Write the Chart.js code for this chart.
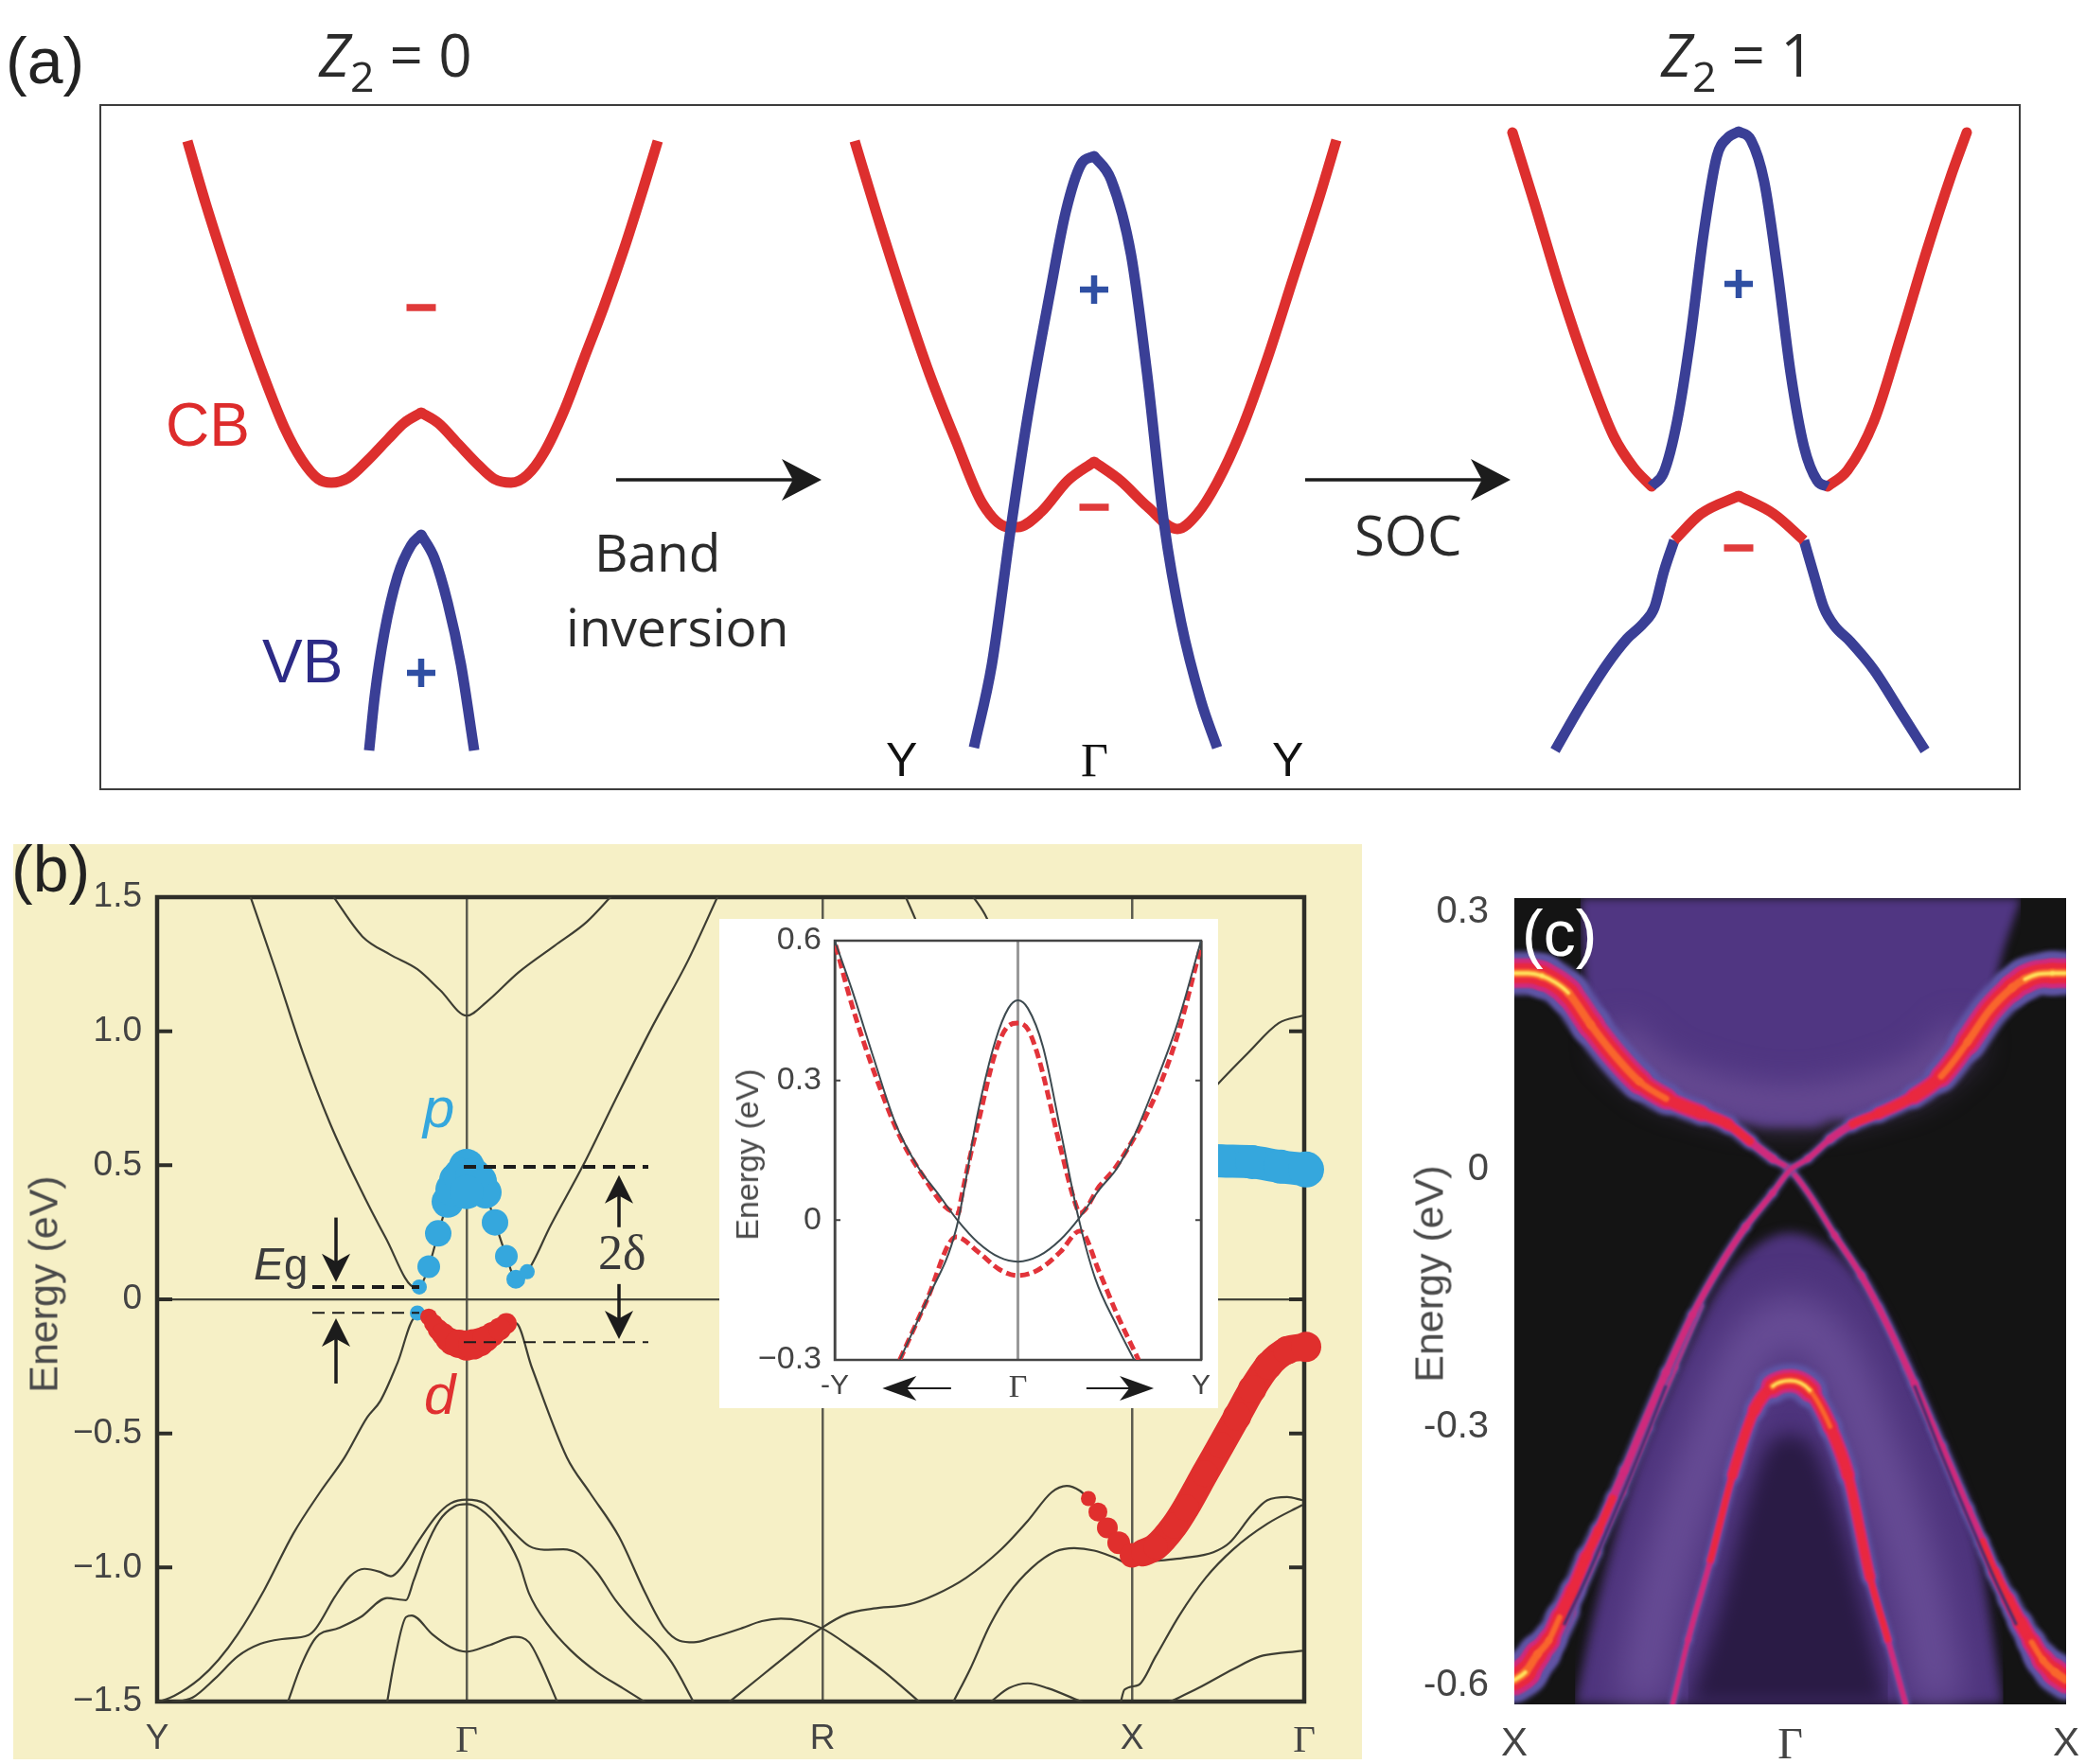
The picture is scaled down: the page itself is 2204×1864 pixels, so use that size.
<!doctype html>
<html>

<head>
    <title>Band inversion</title>
    <script src="https://cdn.jsdelivr.net/npm/chart.js"></script>
    <style>
        html, body { margin: 0; padding: 0; background: #fff; }
        #stage { position: relative; width: 2204px; height: 1864px; overflow: hidden; }
        #stage canvas { position: absolute; }
        .lbl { position: absolute; line-height: 1; white-space: nowrap; font-family: "Liberation Sans", sans-serif; }
        .rot { transform: translate(-50%, -50%) rotate(-90deg); color: #4a4a4a; }
        .sans { font-family: "Open Sans", sans-serif; color: #2b2b2b; }
        .serif { font-family: "Liberation Serif", serif; }
    </style>
</head>

<body>
    <div id="stage">
        <canvas id="chartA" width="2048" height="743" style="left:96px;top:101px"></canvas>
        <canvas id="chartB" width="1425" height="967" style="left:14px;top:892px"></canvas>
        <canvas id="chartInset" width="527" height="517" style="left:760px;top:971px"></canvas>
        <canvas id="chartC" width="734" height="944" style="left:1470px;top:920px"></canvas>

        <div class="lbl" style="left:6px;top:30px;font-size:68px;color:#222">(a)</div>
        <div class="lbl" style="left:12px;top:884px;font-size:68px;color:#222">(b)</div>
        <div class="lbl" style="left:1608px;top:952px;font-size:68px;color:#fff">(c)</div>

        <div class="lbl sans" style="left:337px;top:26px;font-size:62px"><i>Z</i><span style="font-size:.72em;position:relative;top:.35em">2</span> = 0</div>
        <div class="lbl sans" style="left:1755px;top:26px;font-size:62px"><i>Z</i><span style="font-size:.72em;position:relative;top:.35em">2</span> = 1</div>
        <div class="lbl" style="left:175px;top:417px;font-size:64px;color:#dd2b2b">CB</div>
        <div class="lbl" style="left:277px;top:667px;font-size:64px;color:#2c2a86">VB</div>
        <div class="lbl sans" style="left:628px;top:555px;font-size:55px">Band</div>
        <div class="lbl sans" style="left:598px;top:634px;font-size:55px">inversion</div>
        <div class="lbl sans" style="left:1431px;top:536px;font-size:58px">SOC</div>
        <div class="lbl" style="left:936px;top:778px;font-size:50px;color:#111">Y</div>
        <div class="lbl serif" style="left:1142px;top:778px;font-size:50px;color:#111">Γ</div>
        <div class="lbl" style="left:1344px;top:778px;font-size:50px;color:#111">Y</div>

        <div class="lbl rot" style="left:46px;top:1357px;font-size:43px">Energy (eV)</div>
        <div class="lbl rot" style="left:789px;top:1220px;font-size:34px">Energy (eV)</div>
        <div class="lbl rot" style="left:1510px;top:1346px;font-size:43px">Energy (eV)</div>

        <div class="lbl" style="left:268px;top:1312px;font-size:48px;color:#3c3c3c"><i>E</i><span style="font-size:.95em">g</span></div>
        <div class="lbl serif" style="left:632px;top:1298px;font-size:52px;color:#3a3a3a">2δ</div>
        <div class="lbl" style="left:447px;top:1141px;font-size:60px;color:#35a7dd"><i>p</i></div>
        <div class="lbl" style="left:448px;top:1444px;font-size:60px;color:#e03030"><i>d</i></div>
    </div>

    <script>
        // ---- panel (a): k is relative to each zone centre, E in arbitrary units
        const zoneCentre = [3.39, 10.5, 17.31];

        const cb1k = [-2.47, -2.28, -2.07, -1.86, -1.65, -1.44, -1.26, -1.09, -.95, -.77, -.56, -.35, -.18, 0, .18, .39, .60, .77, .95, 1.12, 1.30, 1.51, 1.72, 1.93, 2.14, 2.35, 2.50];
        const cb1e = [6.85, 6.20, 5.54, 4.91, 4.33, 3.81, 3.48, 3.28, 3.24, 3.29, 3.48, 3.70, 3.87, 3.98, 3.87, 3.65, 3.43, 3.28, 3.24, 3.32, 3.56, 4.00, 4.55, 5.10, 5.70, 6.36, 6.85];
        const vb1k = [-.55, -.49, -.39, -.25, -.105, 0, .14, .28, .42, .56];
        const vb1e = [.41, .99, 1.65, 2.25, 2.58, 2.69, 2.44, 1.97, 1.32, .41];

        const cb2k = [-2.53, -2.30, -2.02, -1.74, -1.46, -1.18, -.90, -.81, -.56, -.28, 0, .28, .56, .88, 1.09, 1.30, 1.55, 1.83, 2.11, 2.39, 2.56];
        const cb2e = [6.85, 6.09, 5.21, 4.39, 3.68, 3.02, 2.77, 2.77, 2.93, 3.26, 3.46, 3.26, 2.99, 2.75, 2.91, 3.24, 3.78, 4.55, 5.42, 6.29, 6.86];
        const vb2k = [-1.27, -1.08, -.88, -.7, -.46, -.3, -.14, 0, .18, .39, .56, .74, .92, 1.13, 1.30];
        const vb2e = [.44, 1.32, 2.76, 3.95, 5.28, 6.1, 6.6, 6.69, 6.44, 5.65, 4.39, 2.80, 1.76, .93, .44];

        const cb3LeftK = [-2.39, -2.16, -1.88, -1.60, -1.32, -1.11, -.92];
        const cb3LeftE = [6.94, 6.20, 5.27, 4.44, 3.73, 3.40, 3.20];
        const vb3TopK = [-.92, -.79, -.65, -.51, -.37, -.23, -.12, 0, .13, .27, .41, .55, .69, .83, .94];
        const vb3TopE = [3.20, 3.35, 3.89, 4.77, 5.87, 6.69, 6.88, 6.95, 6.86, 6.42, 5.48, 4.39, 3.62, 3.26, 3.20];
        const cb3RightK = [.94, 1.15, 1.43, 1.71, 1.99, 2.24, 2.41];
        const cb3RightE = [3.20, 3.37, 3.89, 4.77, 5.70, 6.47, 6.94];
        const cb3CapK = [-.68, -.40, 0, .37, .69];
        const cb3CapE = [2.63, 2.91, 3.10, 2.91, 2.63];
        const vb3LeftK = [-1.94, -1.67, -1.39, -1.18, -1.00, -.89, -.79, -.68];
        const vb3LeftE = [.41, .88, 1.32, 1.59, 1.76, 1.92, 2.30, 2.63];
        const vb3RightK = [.69, .80, .90, 1.01, 1.18, 1.43, 1.71, 1.97];
        const vb3RightE = [2.63, 2.25, 1.92, 1.73, 1.56, 1.26, .82, .41];

        const plusZone = [0, 1, 2];
        const plusE = [1.23, 5.28, 5.34];
        const minusE = [5.09, 2.98, 2.55];

        // ---- panel (b): k is the path length, E in eV
        const pathTicks = [0, 3.27, 7.03, 10.30, 12.12];
        const pathLabels = ['Y', 'Γ', 'R', 'X', 'Γ'];
        const energyTicks = [1.5, 1, .5, 0, -.5, -1, -1.5];
        const energyLabels = ['1.5', '1.0', '0.5', '0', '−0.5', '−1.0', '−1.5'];

        const condLeftK = [.98, 1.25, 1.54, 1.83, 2.12, 2.41, 2.73];
        const condLeftE = [1.508, 1.23, .92, .654, .432, .233, .044];
        const pDotK = [2.77, 2.87, 2.97, 3.07, 3.16, 3.27, 3.41, 3.47, 3.57, 3.69, 3.79, 3.91];
        const pDotE = [.046, .122, .246, .364, .446, .494, .441, .399, .287, .161, .075, .103];
        const pDotSize = [8, 12, 14, 17, 18, 19, 18, 17, 14, 12, 10, 8];
        const pFillK = [3.12, 3.21, 3.34, 3.27];
        const pFillE = [.41, .46, .46, .40];
        const pFillSize = [18, 19, 19, 18];
        const condRightK = [4.16, 4.50, 4.84, 5.22, 5.61, 5.93];
        const condRightE = [.277, .499, .743, 1.009, 1.264, 1.508];

        const valLeftK = [0, .18, .45, .65, .85, 1.13, 1.44, 1.72, 1.98, 2.22, 2.36, 2.54, 2.73];
        const valLeftE = [-1.503, -1.479, -1.415, -1.344, -1.25, -1.085, -.873, -.72, -.59, -.44, -.378, -.237, -.067];
        const dDotK = [2.87, 2.97, 3.07, 3.12, 3.27, 3.41, 3.54, 3.69];
        const dDotE = [-.066, -.113, -.148, -.16, -.172, -.16, -.131, -.09];
        const dDotSize = [9, 11, 13, 14, 16, 15, 13, 11];
        const dFillK = [2.92, 3.02, 3.19, 3.34, 3.47, 3.62];
        const dFillE = [-.09, -.13, -.166, -.168, -.148, -.11];
        const dFillSize = [10, 12, 15, 16, 14, 12];
        const valRightK = [3.79, 3.96, 4.33, 4.57, 4.88, 5.16, 5.36, 5.52, 5.67, 5.87, 6.18, 6.39, 6.59, 6.80, 7.02, 7.33, 7.69, 8.06];
        const valRightE = [-.089, -.255, -.59, -.72, -.885, -1.097, -1.226, -1.273, -1.279, -1.261, -1.226, -1.20, -1.191, -1.199, -1.226, -1.297, -1.391, -1.503];

        const upperK = [1.85, 2.17, 2.46, 2.75, 2.99, 3.27, 3.48, 3.82, 4.20, 4.54, 4.81];
        const upperE = [1.508, 1.353, 1.286, 1.231, 1.153, 1.058, 1.109, 1.22, 1.319, 1.408, 1.508];

        const band1k = [.14, .375, .61, .85, 1.09, 1.32, 1.60, 1.68, 1.88, 2.04, 2.19, 2.35, 2.47, 2.59, 2.75, 2.95, 3.10, 3.27, 3.46, 3.62, 3.78, 3.93, 4.09, 4.29, 4.45, 4.65, 4.84, 5.04, 5.28, 5.44, 5.67];
        const band1e = [-1.503, -1.485, -1.415, -1.332, -1.285, -1.267, -1.252, -1.226, -1.108, -1.032, -1.005, -1.016, -1.033, -.996, -.908, -.808, -.761, -.747, -.761, -.814, -.873, -.920, -.934, -.932, -.949, -1.020, -1.120, -1.203, -1.285, -1.356, -1.503];
        const band2k = [1.38, 1.52, 1.68, 1.92, 2.15, 2.43, 2.63, 2.71, 2.83, 2.98, 3.14, 3.27, 3.42, 3.62, 3.82, 3.93, 4.13, 4.37, 4.65, 4.92, 5.16];
        const band2e = [-1.503, -1.367, -1.261, -1.226, -1.185, -1.114, -1.122, -1.049, -.932, -.826, -.773, -.764, -.784, -.855, -.979, -1.097, -1.214, -1.309, -1.391, -1.450, -1.503];
        const band3k = [2.43, 2.51, 2.63, 2.69, 2.91, 3.10, 3.27, 3.50, 3.78, 3.93, 4.05, 4.23];
        const band3e = [-1.503, -1.344, -1.185, -1.179, -1.250, -1.297, -1.314, -1.291, -1.259, -1.279, -1.356, -1.503];
        const band4k = [6.04, 6.39, 6.72, 7.02, 7.29, 7.57, 7.94, 8.22, 8.55, 8.92, 9.20, 9.45, 9.61, 9.75, 9.84];
        const band4e = [-1.503, -1.403, -1.309, -1.226, -1.173, -1.153, -1.138, -1.102, -1.038, -.932, -.826, -.720, -.696, -.714, -.743];
        const band5k = [8.41, 8.59, 8.80, 9.0, 9.24, 9.49, 9.69, 9.90, 10.10, 10.30, 10.55, 10.84, 11.16, 11.33, 11.57, 11.73, 11.94, 12.10];
        const band5e = [-1.503, -1.379, -1.214, -1.097, -1.002, -.941, -.928, -.937, -.961, -.99, -.976, -.965, -.943, -.908, -.802, -.749, -.737, -.749];
        const band6k = [8.80, 9.0, 9.20, 9.41, 9.78];
        const band6e = [-1.503, -1.45, -1.432, -1.45, -1.503];
        const band7k = [10.18, 10.22, 10.37, 10.55, 10.80, 11.08, 11.37, 11.73, 12.10];
        const band7e = [-1.503, -1.456, -1.438, -1.332, -1.179, -1.038, -.932, -.837, -.767];
        const band8k = [10.69, 11.0, 11.37, 11.65, 11.90, 12.10];
        const band8e = [-1.503, -1.45, -1.379, -1.332, -1.318, -1.311];
        const band9k = [10.9, 11.20, 11.53, 11.85, 12.1];
        const band9e = [.68, .80, .92, 1.03, 1.058];
        const band10k = [7.90, 8.01, 8.2];
        const band10e = [1.508, 1.419, 1.25];
        const band11k = [8.61, 8.77, 9.0];
        const band11e = [1.508, 1.419, 1.2];

        const redXk = [9.84, 9.94, 10.04, 10.16, 10.30, 10.42, 10.55, 10.75, 10.87, 11.07, 11.24, 11.41, 11.57, 11.74, 11.94, 12.14];
        const redXe = [-.743, -.793, -.852, -.908, -.955, -.945, -.923, -.843, -.777, -.65, -.544, -.437, -.335, -.247, -.19, -.177];
        const redXsize = [8, 10, 11, 12, 13, 13, 13, 14, 14, 14, 14, 15, 15, 15, 15, 16];
        const blueXk = [11.0, 11.25, 11.57, 11.87, 12.14];
        const blueXe = [.52, .516, .512, .495, .484];
        const blueXsize = [17, 17, 18, 18, 19];

        // ---- inset
        const insetTicks = [.6, .3, 0, -.3];
        const insetLabels = ['0.6', '0.3', '0', '−0.3'];
        const insetPathTicks = [-1, 0, 1];
        const insetPathLabels = ['-Y', 'Γ', 'Y'];
        const fitCk = [-1, -.905, -.787, -.668, -.55, -.431, -.33, -.218, -.10, 0, .114, .232, .332, .445, .54, .635, .754, .872, 1];
        const fitCe = [.6, .493, .347, .207, .117, .054, 0, -.048, -.08, -.089, -.077, -.042, .003, .066, .111, .181, .296, .423, .6];
        const fitVk = [-.645, -.502, -.336, -.218, -.123, -.052, 0, .054, .137, .232, .332, .422, .54, .635];
        const fitVe = [-.3, -.176, -.017, .232, .385, .455, .472, .455, .372, .194, .003, -.125, -.227, -.3];
        const redUpK = [-.995, -.905, -.787, -.645, -.502, -.40, -.325, -.313, -.265, -.218, -.123, -.052, 0, .054, .114, .232, .315, .339, .445, .54, .754, .872, 1];
        const redUpE = [.59, .46, .32, .18, .085, .03, .015, .04, .13, .207, .36, .417, .423, .41, .347, .156, .034, .015, .073, .117, .27, .398, .59];
        const redLowK = [-.645, -.502, -.336, -.218, -.10, 0, .114, .232, .339, .445, .54, .659];
        const redLowE = [-.3, -.176, -.036, -.068, -.106, -.119, -.106, -.068, -.023, -.112, -.201, -.3];

        // ---- panel (c)
        const specTicks = [.3, 0, -.3, -.6];
        const specLabels = ['0.3', '0', '-0.3', '-0.6'];
        const specPathTicks = [-1, 0, 1];
        const specPathLabels = ['X', 'Γ', 'X'];

        const arm1k = [-1, -.95, -.90, -.85, -.804, -.723, -.643, -.547, -.45, -.322, -.225, -.145, -.064, 0, .072, .161, .257, .354, .45, .547, .60, .643, .695, .74, .79, .836, .875, .916, .96, 1];
        const arm1e = [.229, .229, .226, .218, .206, .169, .136, .103, .083, .066, .053, .033, .013, 0, -.03, -.076, -.123, -.182, -.249, -.322, -.362, -.395, -.433, -.468, -.50, -.528, -.55, -.571, -.585, -.594];
        const arm1w = [46, 46, 44, 44, 42, 40, 40, 34, 26, 20, 16, 12, 9, 8, 8, 9, 10, 10, 11, 12, 12, 13, 15, 18, 22, 26, 30, 36, 42, 48];
        const arm2k = [-1, -.96, -.916, -.875, -.836, -.79, -.74, -.695, -.643, -.60, -.547, -.45, -.354, -.257, -.161, -.064, 0, .064, .145, .225, .322, .45, .547, .643, .723, .804, .85, .90, .95, 1];
        const arm2e = [-.594, -.585, -.564, -.548, -.521, -.49, -.451, -.42, -.382, -.35, -.309, -.236, -.169, -.113, -.066, -.027, 0, .013, .036, .053, .066, .086, .109, .149, .186, .212, .222, .228, .229, .229];
        const arm2w = [48, 42, 36, 30, 26, 22, 18, 15, 13, 12, 12, 11, 10, 10, 9, 8, 8, 9, 12, 16, 20, 26, 34, 40, 40, 42, 44, 44, 46, 46];
        const twin1k = [.322, .418, .514, .611, .707, .804, .884, 1];
        const twin1e = [-.158, -.23, -.30, -.375, -.445, -.515, -.565, -.60];
        const twin1w = [5, 7, 9, 11, 12, 16, 24, 30];
        const twin2k = [-1, -.884, -.804, -.707, -.611, -.514, -.418, -.322];
        const twin2e = [-.60, -.565, -.515, -.445, -.375, -.30, -.23, -.158];
        const twin2w = [30, 24, 16, 12, 11, 9, 7, 5];
        const gap1k = [.45, .547, .643, .74, .82];
        const gap1e = [-.251, -.33, -.404, -.476, -.53];
        const gap2k = [-.82, -.74, -.643, -.547, -.45];
        const gap2e = [-.53, -.476, -.404, -.33, -.251];
        const vbandK = [-.426, -.37, -.289, -.209, -.129, -.064, 0, .072, .145, .209, .289, .354, .418];
        const vbandE = [-.622, -.547, -.4545, -.355, -.279, -.252, -.2455, -.257, -.299, -.355, -.474, -.547, -.622];
        const vbandW = [8, 9, 12, 18, 22, 36, 36, 24, 22, 18, 12, 9, 8];

        const upperGlowK = [-.76, -.74, -.723, -.643, -.547, -.45, -.322, -.225, -.16, -.08, 0, .08, .16, .225, .322, .45, .547, .643, .723, .756, .836];
        const upperGlowE = [.3165, .2, .169, .136, .103, .083, .066, .058, .055, .05, .05, .05, .06, .058, .066, .086, .109, .149, .186, .2356, .3165];
        const lightUpK = [-.643, -.482, -.322, -.16, 0, .16, .322, .482, .643];
        const lightUpE = [.159, .113, .093, .08, .075, .08, .093, .113, .159];
        const lowRegionK = [-.78, -.723, -.643, -.547, -.45, -.354, -.257, -.129, 0, .161, .289, .402, .482, .579, .675, .772];
        const lowRegionE = [-.622, -.534, -.435, -.335, -.262, -.196, -.136, -.09, -.073, -.096, -.143, -.209, -.269, -.342, -.428, -.622];
        const innerK = [-.37, -.257, -.161, -.08, 0, .08, .161, .257, .354];
        const innerE = [-.622, -.514, -.395, -.322, -.309, -.322, -.388, -.501, -.622];
        const lightLowK = [-.547, -.482, -.386, -.289, -.193, -.096, 0, .096, .193, .289, .386, .482, .547];
        const lightLowE = [-.622, -.514, -.401, -.315, -.236, -.189, -.176, -.189, -.236, -.315, -.401, -.514, -.622];

        function zip(k, e, shift) {
            return k.map((v, i) => ({ x: v + (shift || 0), y: e[i] }));
        }

        // stroke helper, everything here is a plain scatter line
        function line(k, e, color, width, extra) {
            return Object.assign({ data: zip(k, e), showLine: true, pointRadius: 0, cubicInterpolationMode: 'monotone', borderColor: color, borderWidth: width }, extra || {});
        }

        function dots(k, e, size, color, extra) {
            return Object.assign({ data: zip(k, e), pointRadius: size, pointBackgroundColor: color, pointBorderWidth: 0 }, extra || {});
        }

        function paint(list) {
            // later in list = drawn later (chart.js paints highest order first)
            list.forEach((d, i) => { d.order = list.length - i; });
            return list;
        }

        function setBlur(chart, index) {
            const d = chart.data.datasets[index];
            chart.ctx.filter = d && d.blur ? 'blur(' + d.blur + 'px)' : 'none';
        }

        const paneHelpers = {
            id: 'paneHelpers',
            beforeDraw(chart, args, o) {
                const c = chart.ctx, a = chart.chartArea;
                c.save();
                if (o.page) { c.fillStyle = o.page; c.fillRect(0, 0, chart.width, chart.height); }
                if (o.area) { c.fillStyle = o.area; c.fillRect(a.left, a.top, a.width, a.height); }
                c.restore();
            },
            beforeDatasetsDraw(chart, args, o) {
                const c = chart.ctx, a = chart.chartArea;
                if (o.frame) {
                    c.save();
                    c.strokeStyle = o.frame;
                    c.lineWidth = o.frameWidth;
                    c.strokeRect(a.left, a.top, a.width, a.height);
                    if (o.tick) {
                        c.lineWidth = o.tickWidth;
                        c.beginPath();
                        chart.scales.y.ticks.forEach(t => {
                            const y = chart.scales.y.getPixelForValue(t.value);
                            c.moveTo(a.left, y); c.lineTo(a.left + o.tick, y);
                            c.moveTo(a.right, y); c.lineTo(a.right - o.tick, y);
                        });
                        c.stroke();
                    }
                    c.restore();
                }
                setBlur(chart, 0);
            },
            afterDatasetDraw(chart, args) {
                // filler runs before any local hook, so the next blur has to be set here
                setBlur(chart, args.index + 1);
            },
            afterDatasetsDraw(chart, args, o) {
                const c = chart.ctx;
                c.filter = 'none';
                (o.arrows || []).forEach(r => {
                    const x0 = chart.scales.x.getPixelForValue(r.from[0]), y0 = chart.scales.y.getPixelForValue(r.from[1]);
                    const x1 = chart.scales.x.getPixelForValue(r.to[0]), y1 = chart.scales.y.getPixelForValue(r.to[1]);
                    const ang = Math.atan2(y1 - y0, x1 - x0);
                    c.save();
                    c.strokeStyle = c.fillStyle = '#1c1c1c';
                    c.lineWidth = r.stem;
                    c.beginPath(); c.moveTo(x0, y0); c.lineTo(x1 - r.len * .7 * Math.cos(ang), y1 - r.len * .7 * Math.sin(ang)); c.stroke();
                    c.translate(x1, y1); c.rotate(ang);
                    c.beginPath();
                    c.moveTo(0, 0); c.lineTo(-r.len, -r.half); c.lineTo(-r.len * .72, 0); c.lineTo(-r.len, r.half);
                    c.closePath(); c.fill();
                    c.restore();
                });
            }
        };

        function fixedAxis(min, max, ticks, labels, fit, font, color, pad, grid) {
            return {
                type: 'linear', min: min, max: max,
                border: { display: false },
                grid: grid,
                afterBuildTicks: s => { s.ticks = ticks.map(v => ({ value: v })); },
                afterFit: s => {
                    if (s.isHorizontal()) s.height = fit; else s.width = fit;
                    // tick labels must not push the plot area around, the canvas padding sets it
                    s.paddingTop = s.paddingBottom = s.paddingLeft = s.paddingRight = 0;
                },
                ticks: {
                    autoSkip: false, maxRotation: 0, padding: pad, color: color,
                    font: c => (labels[c.index] === 'Γ' ? { family: 'Liberation Serif', size: font + 4 } : { family: 'Liberation Sans', size: font }),
                    callback: (v, i) => labels[i]
                }
            };
        }

        function baseOptions(padding, helpers, scales) {
            return {
                responsive: false, animation: false, events: [],
                layout: { padding: padding, autoPadding: false },
                plugins: { legend: { display: false }, tooltip: { enabled: false }, paneHelpers: helpers },
                scales: scales
            };
        }

        /* -- panel a -- */
        const red = '#dd2f2e', blue = '#3a3f96';
        const bandsA = [];
        function addA(k, e, zone, color, cap) {
            bandsA.push(line(k, e, color, 11, { data: zip(k, e, zoneCentre[zone]), borderCapStyle: cap || 'butt' }));
        }
        // the bands come to a point at gamma, so each side is its own curve
        function addPeaked(k, e, zone, color) {
            const mid = k.indexOf(0);
            addA(k.slice(0, mid + 1), e.slice(0, mid + 1), zone, color);
            addA(k.slice(mid), e.slice(mid), zone, color);
            bandsA.push(dots([k[mid] + zoneCentre[zone]], [e[mid]], 5.5, color));
        }
        addPeaked(cb1k, cb1e, 0, red);
        addPeaked(vb1k, vb1e, 0, blue);
        addPeaked(cb2k, cb2e, 1, red);
        addPeaked(vb2k, vb2e, 1, blue);
        addA(cb3LeftK, cb3LeftE, 2, red, 'round');
        addA(cb3RightK, cb3RightE, 2, red, 'round');
        addPeaked(vb3TopK, vb3TopE, 2, blue);
        addA(vb3LeftK, vb3LeftE, 2, blue);
        addA(vb3RightK, vb3RightE, 2, blue);
        addPeaked(cb3CapK, cb3CapE, 2, red);
        bandsA.push({
            data: plusZone.map((z, i) => ({ x: zoneCentre[z], y: plusE[i] })),
            pointStyle: 'cross', pointRadius: 15, pointBorderColor: '#2f4fa3', pointBorderWidth: 6.5
        });
        bandsA.push({
            data: plusZone.map((z, i) => ({ x: zoneCentre[z], y: minusE[i] })),
            pointStyle: 'line', pointRadius: 15.5, pointBorderColor: '#e03a3a', pointBorderWidth: 7.5
        });

        new Chart(document.getElementById('chartA'), {
            type: 'scatter',
            data: { datasets: paint(bandsA) },
            plugins: [paneHelpers],
            options: baseOptions(10, {
                frame: '#3c3c3c', frameWidth: 2,
                arrows: [
                    { from: [5.45, 3.27], to: [7.62, 3.27], stem: 3.5, len: 42, half: 22 },
                    { from: [12.73, 3.27], to: [14.90, 3.27], stem: 3.5, len: 42, half: 22 }
                ]
            }, {
                x: { type: 'linear', min: 0, max: 20.28, display: false },
                y: { type: 'linear', min: 0, max: 7.23, display: false }
            })
        });

        /* -- panel b -- */
        const ink = '#3e3e33';
        const thinDash = { borderDash: [13, 8] };
        const bandsB = paint([
            line(condLeftK.concat(pDotK, condRightK), condLeftE.concat(pDotE, condRightE), ink, 2.2),
            line(valLeftK.concat(dDotK, valRightK), valLeftE.concat(dDotE, valRightE), ink, 2.2),
            line(upperK, upperE, ink, 2.2),
            line(band1k, band1e, ink, 2.2),
            line(band2k, band2e, ink, 2.2),
            line(band3k, band3e, ink, 2.2),
            line(band4k, band4e, ink, 2.2),
            line(band5k, band5e, ink, 2.2),
            line(band6k, band6e, ink, 2.2),
            line(band7k, band7e, ink, 2.2),
            line(band8k, band8e, ink, 2.2),
            line(band9k, band9e, ink, 2.2),
            line(band10k, band10e, ink, 2.2),
            line(band11k, band11e, ink, 2.2),
            dots(pDotK, pDotE, pDotSize, '#35a7dd'),
            dots(pFillK, pFillE, pFillSize, '#35a7dd'),
            dots([2.75], [-.051], 8, '#35a7dd'),
            dots(dDotK, dDotE, dDotSize, '#e02f2d'),
            dots(dFillK, dFillE, dFillSize, '#e02f2d'),
            line(redXk.slice(5), redXe.slice(5), '#e02f2d', 29, { clip: false, borderCapStyle: 'round' }),
            dots(redXk, redXe, redXsize, '#e02f2d', { clip: false }),
            line(blueXk, blueXe, '#35a7dd', 35, { clip: false, borderCapStyle: 'round' }),
            dots(blueXk, blueXe, blueXsize, '#35a7dd', { clip: false }),
            line([1.64, 2.77], [.046, .046], '#1c1c1c', 4, thinDash),
            line([1.64, 2.77], [-.05, -.05], '#1c1c1c', 2, thinDash),
            line([3.24, 5.19], [.494, .494], '#1c1c1c', 4, thinDash),
            line([3.24, 5.19], [-.16, -.16], '#1c1c1c', 2, thinDash)
        ]);

        new Chart(document.getElementById('chartB'), {
            type: 'scatter',
            data: { datasets: bandsB },
            plugins: [paneHelpers],
            options: baseOptions({ top: 56, right: 61 }, {
                page: '#f6f0c6',
                frame: '#2e2e28', frameWidth: 4.5, tick: 16, tickWidth: 4,
                arrows: [
                    { from: [1.89, .305], to: [1.89, .064], stem: 3.5, len: 30, half: 15 },
                    { from: [1.89, -.314], to: [1.89, -.071], stem: 3.5, len: 30, half: 15 },
                    { from: [4.88, .269], to: [4.88, .463], stem: 3.5, len: 30, half: 15 },
                    { from: [4.88, .057], to: [4.88, -.148], stem: 3.5, len: 30, half: 15 }
                ]
            }, {
                x: fixedAxis(0, 12.12, pathTicks, pathLabels, 61, 37, '#444', 18, { color: '#5c5c50', lineWidth: 2.5, drawTicks: false }),
                y: fixedAxis(-1.5, 1.5, energyTicks, energyLabels, 152, 37, '#444', 16, {
                    drawTicks: false, lineWidth: 2.2,
                    color: c => (c.tick.value === 0 ? '#45453a' : 'transparent')
                })
            })
        });

        /* -- inset -- */
        const redDash = { borderDash: [10, 5] };
        new Chart(document.getElementById('chartInset'), {
            type: 'scatter',
            data: {
                datasets: paint([
                    line(redUpK, redUpE, '#e2333a', 5, redDash),
                    line(redLowK, redLowE, '#e2333a', 5, redDash),
                    line(fitCk, fitCe, '#3d4a50', 2),
                    line(fitVk, fitVe, '#3d4a50', 2)
                ])
            },
            plugins: [paneHelpers],
            options: baseOptions({ top: 23, right: 18 }, {
                page: '#ffffff',
                frame: '#444', frameWidth: 2.5, tick: 6, tickWidth: 2,
                arrows: [
                    { from: [-.365, -.361], to: [-.74, -.361], stem: 2, len: 36, half: 13 },
                    { from: [.374, -.361], to: [.742, -.361], stem: 2, len: 36, half: 13 }
                ]
            }, {
                x: fixedAxis(-1, 1, insetPathTicks, insetPathLabels, 51, 30, '#444', 10, { color: '#999', lineWidth: 3, drawTicks: false }),
                y: fixedAxis(-.3, .6, insetTicks, insetLabels, 122, 34, '#444', 14, { drawTicks: false, color: 'transparent' })
            })
        });

        /* -- panel c: no heat map type in the library, so the spectrum is layered bands -- */
        const bandStops = [
            { color: '#5f55a6', scale: 1, min: 0, blur: 2.5 },
            { color: '#cf2a7c', scale: .68, min: 0, blur: 1.2 },
            { color: '#e9283f', scale: .46, min: 14, blur: 1 },
            { color: '#f8662c', scale: .2, min: 30, blur: 1 },
            { color: '#ffe35c', scale: .09, min: 44, blur: .8 }
        ];

        function bandLayers(k, e, w, boost) {
            return bandStops.map(s => line(k, e, s.color, 2, {
                blur: s.blur,
                borderCapStyle: 'round',
                segment: {
                    borderWidth: c => Math.max(w[c.p0DataIndex] * s.scale, 1),
                    borderColor: c => (w[c.p0DataIndex] * (boost || 1) >= s.min ? s.color : 'transparent')
                }
            }));
        }

        const bandsC = paint([].concat(
            [
                line(upperGlowK, upperGlowE, 'transparent', 0, { fill: 'end', backgroundColor: '#503682', blur: 5 }),
                line(lightUpK, lightUpE, '#6f5298', 30, { blur: 18 }),
                line(lowRegionK, lowRegionE, 'transparent', 0, { fill: 'start', backgroundColor: '#4d337c', blur: 6 }),
                line(lightLowK, lightLowE, '#6a4f98', 50, { blur: 20 }),
                line(innerK, innerE, 'transparent', 0, { fill: 'start', backgroundColor: '#2a1b45', blur: 10 })
            ],
            bandLayers(vbandK, vbandE, vbandW, 1.25),
            bandLayers(twin1k, twin1e, twin1w),
            bandLayers(twin2k, twin2e, twin2w),
            bandLayers(arm1k, arm1e, arm1w),
            bandLayers(arm2k, arm2e, arm2w),
            [
                line(gap1k, gap1e, '#40306f', 3, { blur: .8 }),
                line(gap2k, gap2e, '#40306f', 3, { blur: .8 })
            ]
        ));

        new Chart(document.getElementById('chartC'), {
            type: 'scatter',
            data: { datasets: bandsC },
            plugins: [paneHelpers],
            options: baseOptions({ top: 29, right: 21 }, { area: '#141414' }, {
                x: fixedAxis(-1, 1, specPathTicks, specPathLabels, 63, 42, '#444', 9, { display: false }),
                y: fixedAxis(-.6224, .3165, specTicks, specLabels, 130, 40, '#444', 19, { display: false })
            })
        });
    </script>
</body>

</html>
